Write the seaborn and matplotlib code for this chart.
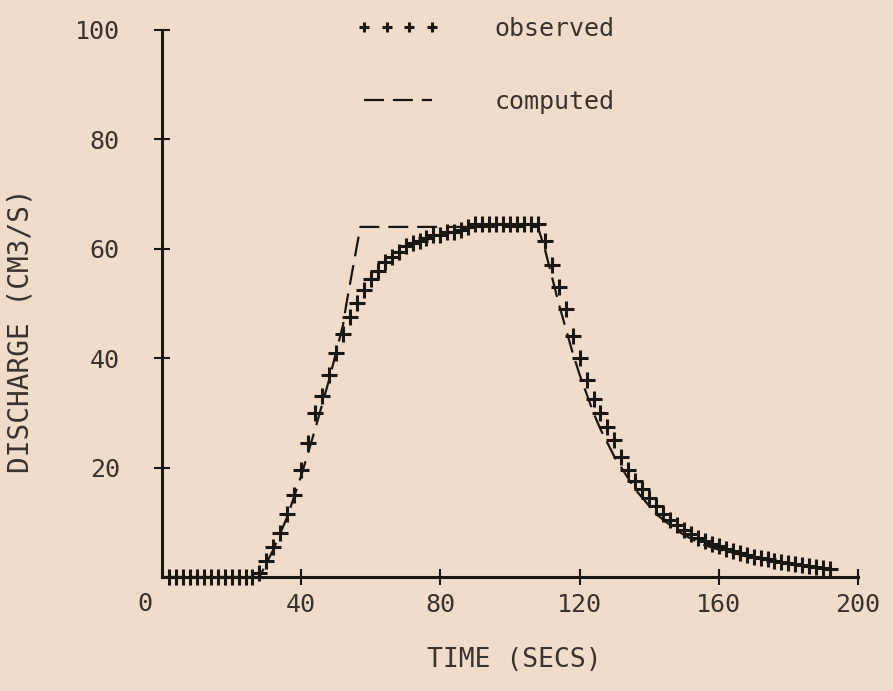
import numpy as np
import pandas as pd
import matplotlib
matplotlib.use('Agg')
import matplotlib.pyplot as plt
import seaborn as sns

# observed discharge, every 2 secs
obs_time = list(range(2, 194, 2))
obs_q = [0] * 13 + [
    0.8, 3, 5.5, 8, 11.5, 15, 19.5, 24.5, 30, 33, 37, 41, 44.5, 47.5, 50, 52.5,
    54.5, 56, 57.5, 58.5, 59.5, 60.5, 61, 61.5, 62, 62.5, 62.5, 63, 63, 63.5, 64,
] + [64.5] * 10 + [
    61.5, 57, 53, 49, 44, 40, 36, 32.5, 30, 27.5, 25, 22, 19.5, 17.5, 16, 14.5,
    13, 11.5, 10.5, 9.5, 8.5, 7.8, 7.2, 6.6, 6.1, 5.6, 5.1, 4.7, 4.3, 4.0, 3.7,
    3.4, 3.2, 3.0, 2.8, 2.6, 2.4, 2.2, 2.0, 1.9, 1.7, 1.5,
]

# computed hydrograph
comp_time = [0, 28, 32, 36, 40, 44, 48, 52, 53, 57, 108, 110, 112, 114, 116, 118,
             120, 122, 124, 126, 128, 130, 132, 134, 136, 138, 140, 142, 144, 146,
             148, 150, 155, 160, 170, 180, 192]
comp_q = [0, 0, 5, 11, 18.5, 27, 36, 46, 50, 64, 64, 60, 55, 50, 45.5, 41,
          37, 33.5, 30, 27, 24.5, 22, 20, 18, 16, 14.5, 13, 11.5, 10.5, 9.5,
          8.5, 7.7, 6, 5, 3.5, 2.5, 1.5]

x_ticks = [40, 80, 120, 160, 200]
y_ticks = [20, 40, 60, 80, 100]

obs = pd.DataFrame({'time': obs_time, 'q': obs_q})
comp = pd.DataFrame({'time': comp_time, 'q': comp_q})

paper = '#f0dccb'
ink = '#1a1612'
txt = '#3a322c'

sns.set_theme(style='ticks')
plt.rcParams['font.family'] = ['DejaVu Sans Mono', 'DejaVu Sans']

fig = plt.figure(figsize=(8.93, 6.91), dpi=100, facecolor=paper)
ax = fig.add_axes([0.1814, 0.165, 0.7794, 0.7916])
ax.set_facecolor(paper)

sns.lineplot(data=comp, x='time', y='q', ax=ax, color=ink, lw=1.6,
             label='computed', sort=False, clip_on=False)
ax.lines[-1].set_dashes((9, 4))
sns.lineplot(data=obs, x='time', y='q', ax=ax, color=ink, linestyle='',
             marker='+', markersize=11, markeredgewidth=2.2,
             markeredgecolor=ink, label='observed', clip_on=False)

ax.set_xlim(0, 200)
ax.set_ylim(0, 100)
ax.set_xticks(x_ticks)
ax.set_yticks(y_ticks)

for s in ['top', 'right']:
    ax.spines[s].set_visible(False)
for s in ['left', 'bottom']:
    ax.spines[s].set_linewidth(2.2)
    ax.spines[s].set_color(ink)

ax.tick_params(bottom=True, left=True, direction='inout', length=11,
               width=1.5, color=ink, labelsize=18, labelcolor=txt)
ax.tick_params(axis='y', pad=25)
ax.tick_params(axis='x', pad=6)
ax.text(-5, -5, '0', fontsize=18, color=txt, ha='center', va='center')

ax.set_xlabel('TIME (SECS)', fontsize=19, color=txt)
ax.set_ylabel('DISCHARGE (CM3/S)', fontsize=20, color=txt)
ax.xaxis.set_label_coords(0.506, -0.128)
ax.yaxis.set_label_coords(-0.183, 0.45)

h, l = ax.get_legend_handles_labels()
ax.legend(h[::-1], l[::-1], loc='upper left', bbox_to_anchor=(0.28, 1.024),
          frameon=False, fontsize=18, numpoints=4, markerscale=0.65,
          handlelength=3.3, handletextpad=2.2, labelspacing=1.95,
          borderpad=0, borderaxespad=0, labelcolor=txt)

fig.savefig('out.png', dpi=100, facecolor=paper)
